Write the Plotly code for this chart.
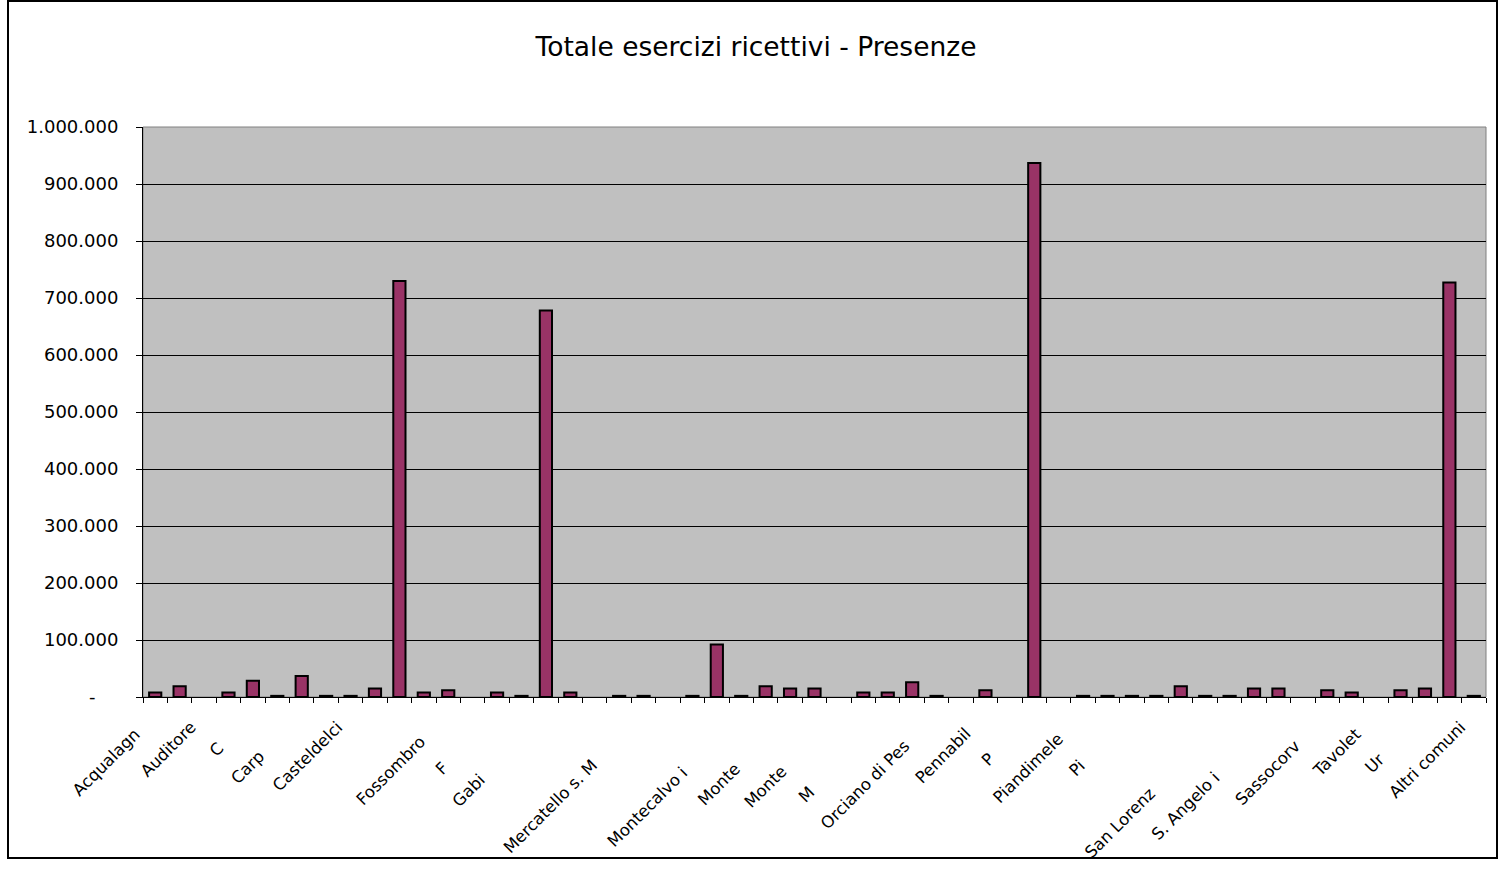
import plotly.graph_objects as go

# Comuni (full names) in chart order
categories = [
    "Acqualagna", "Apecchio", "Auditore", "Borgo Pace", "Cagli", "Cantiano",
    "Carpegna", "Cartoceto", "Casteldelci", "Colbordolo", "Fano", "Fermignano",
    "Fossombrone", "Fratte Rosa", "Frontino", "Frontone", "Gabicce Mare", "Gradara",
    "Isola del Piano", "Lunano", "Mercatello s. Metauro", "Mercatino Conca",
    "Mombaroccio", "Mondolfo", "Montecalvo in Foglia", "Monteciccardo",
    "Montecopiolo", "Montefelcino", "Montelabbate", "Montemaggiore al Metauro",
    "Monte Porzio", "Novafeltria", "Orciano di Pesaro", "Peglio", "Pennabilli",
    "Pergola", "Pesaro", "Petriano", "Piandimeleto", "Pietrarubbia", "Piobbico",
    "Saltara", "San Costanzo", "San Leo", "San Lorenzo in Campo",
    "Sant'Agata Feltria", "S. Angelo in Lizzola", "S. Angelo in Vado",
    "Sassocorvaro", "Sassofeltrio", "Tavoleto", "Tavullia", "Urbania", "Urbino",
    "Altri comuni",
]

# Presenze per comune (None = no value)
presenze = [
    8000, 19000, None, 8000, 28600, 2000,
    36800, 2000, 2000, 15000, 730000, 8000,
    11700, None, 8000, 2000, 678000, 8000,
    None, 2000, 2000, None,
    2000, 92000, 2000, 19000,
    15000, 15000, None, 8000,
    8000, 25700, 2000, None, 11700,
    None, 937000, None, 2000, 2000, 2000,
    2000, 19000, 2000, 2000,
    15000, 15000, None,
    11700, 8000, None, 11700, 15000, 727000,
    2000,
]

# Printed part of each category label ("" = no label)
tick_labels = [
    "Acqualagn", "", "Auditore", "", "C", "",
    "Carp", "", "Casteldelci", "", "", "",
    "Fossombro", "", "F", "", "Gabi", "",
    "", "", "Mercatello s. M", "",
    "", "", "Montecalvo i", "",
    "Monte", "", "Monte", "",
    "M", "", "Orciano di Pes", "", "Pennabil",
    "", "P", "", "Piandimele", "", "Pi",
    "", "", "", "San Lorenz",
    "", "S. Angelo i", "",
    "Sassocorv", "", "Tavolet", "", "Ur", "",
    "Altri comuni",
]

y_ticks = [0, 100000, 200000, 300000, 400000, 500000, 600000, 700000, 800000, 900000, 1000000]

TITLE = "Totale esercizi ricettivi - Presenze"
FONT = "DejaVu Sans"

# Labels keep the full name's length so the printed part sits where it belongs;
# the unprinted tail is rendered transparent.
tick_text = []
for name, shown in zip(categories, tick_labels):
    if shown:
        rest = name[len(shown):]
        if rest:
            tick_text.append(shown + "<span style='color:rgba(0,0,0,0)'>" + rest + "</span>")
        else:
            tick_text.append(shown)
    else:
        tick_text.append("")

def fmt_thousands(v):
    if v == 0:
        return "-" + "\u00a0" * 4
    return f"{v:,}".replace(",", ".")

y_text = [fmt_thousands(v) for v in y_ticks]

W, H = 1505, 890
ML, MR, MT, MB = 143, 19, 127, 193
PW, PH = W - ML - MR, H - MT - MB

def px_to_paper_x(px):
    return (px - ML) / PW

def px_to_paper_y(py):
    return (H - MB - py) / PH

fig = go.Figure(
    go.Bar(
        x=categories,
        y=presenze,
        marker=dict(color="#993366", line=dict(color="black", width=2)),
        hoverinfo="x+y",
    )
)

fig.update_layout(
    width=W,
    height=H,
    autosize=False,
    margin=dict(l=ML, r=MR, t=MT, b=MB, pad=0),
    paper_bgcolor="white",
    plot_bgcolor="#C0C0C0",
    bargap=0.5,
    showlegend=False,
    font=dict(family=FONT, color="black"),
    title=dict(
        text=TITLE,
        font=dict(family=FONT, size=26.5, color="black"),
        x=756 / W,
        xref="container",
        xanchor="center",
        y=1 - 47 / H,
        yref="container",
        yanchor="middle",
    ),
    xaxis=dict(
        type="category",
        range=[-0.5, len(categories) - 0.5],
        tickmode="array",
        tickvals=categories,
        ticktext=tick_text,
        tickson="boundaries",
        ticks="outside",
        ticklen=5,
        tickwidth=1,
        tickcolor="black",
        tickangle=-45,
        ticklabelstandoff=13,
        ticklabelshift=-13,
        tickfont=dict(family=FONT, size=16.5, color="black"),
        showline=True,
        linecolor="black",
        linewidth=1,
        showgrid=False,
        fixedrange=True,
    ),
    yaxis=dict(
        range=[0, 1000000],
        tickmode="array",
        tickvals=y_ticks,
        ticktext=y_text,
        ticks="outside",
        ticklen=6,
        tickwidth=1,
        tickcolor="black",
        ticklabelstandoff=14,
        tickfont=dict(family=FONT, size=18, color="black"),
        showline=True,
        linecolor="black",
        linewidth=1,
        showgrid=True,
        gridcolor="black",
        gridwidth=1,
        zeroline=False,
        fixedrange=True,
    ),
    shapes=[
        # plot area frame
        dict(type="rect", xref="paper", yref="paper", x0=0, x1=1, y0=0, y1=1,
             line=dict(color="#808080", width=1), layer="below"),
        # chart area frame
        dict(type="rect", xref="paper", yref="paper",
             x0=px_to_paper_x(8), x1=px_to_paper_x(1497),
             y0=px_to_paper_y(858), y1=px_to_paper_y(1),
             line=dict(color="black", width=2), layer="above"),
    ],
)

fig.write_html("out.html")
